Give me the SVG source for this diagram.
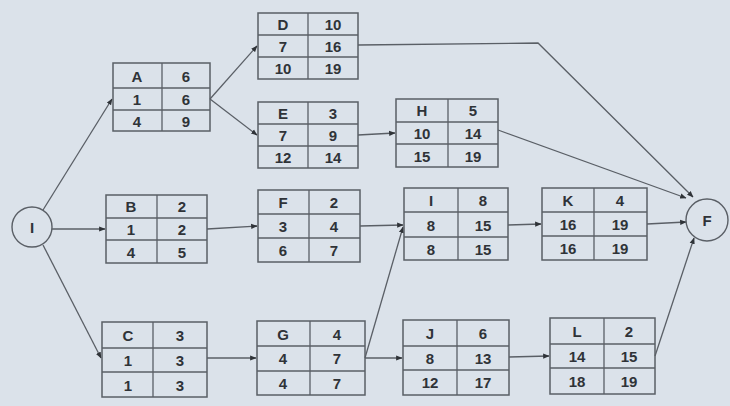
<svg xmlns="http://www.w3.org/2000/svg" width="730" height="406" viewBox="0 0 730 406">
<style>
.box{fill:none;stroke:#5a5f66;stroke-width:1.5}
.grid{stroke:#5a5f66;stroke-width:1.3}
.t{font-family:"Liberation Sans",Arial,sans-serif;font-weight:bold;font-size:15px;fill:#2f3338;text-anchor:middle;dominant-baseline:central}
.c{fill:none;stroke:#5a5f66;stroke-width:1.4}
.edge{fill:none;stroke:#5a5f66;stroke-width:1.3;marker-end:url(#ah)}
</style>
<defs>
<marker id="ah" viewBox="0 0 10 10" refX="9" refY="5" markerWidth="5" markerHeight="5" orient="auto" markerUnits="strokeWidth">
<path d="M0,1 L10,5 L0,9 z" fill="#2f3338"/>
</marker>
</defs>
<rect width="730" height="406" fill="#dbe2ea"/>

<g id="connectors">
<line class="edge" x1="43" y1="210" x2="112" y2="99"/>
<line class="edge" x1="52" y1="229" x2="105" y2="229"/>
<line class="edge" x1="43" y1="245" x2="101" y2="358"/>
<line class="edge" x1="210" y1="99" x2="257" y2="46"/>
<line class="edge" x1="210" y1="99" x2="257" y2="135"/>
<polyline class="edge" points="358,45 538,43 693,197"/>
<line class="edge" x1="358" y1="135" x2="395" y2="133"/>
<line class="edge" x1="498" y1="130" x2="686" y2="198"/>
<line class="edge" x1="207" y1="229" x2="257" y2="226"/>
<line class="edge" x1="360" y1="226" x2="403" y2="225"/>
<line class="edge" x1="365" y1="358" x2="403" y2="227"/>
<line class="edge" x1="508" y1="225" x2="541" y2="224"/>
<line class="edge" x1="647" y1="224" x2="686" y2="222"/>
<line class="edge" x1="207" y1="358" x2="256" y2="358"/>
<line class="edge" x1="365" y1="358" x2="402" y2="358"/>
<line class="edge" x1="509" y1="357" x2="549" y2="356"/>
<line class="edge" x1="655" y1="356" x2="694" y2="238"/>
</g>

<g id="start">
<circle class="c" cx="32" cy="227" r="20"/>
<text class="t" x="32" y="227">I</text>
</g>
<g id="finish">
<circle class="c" cx="707" cy="220" r="21"/>
<text class="t" x="707" y="220">F</text>
</g>

<g id="nodeA">
<rect class="box" x="113" y="63" width="97" height="68"/>
<line class="grid" x1="162" y1="63" x2="162" y2="131"/>
<line class="grid" x1="113" y1="88" x2="210" y2="88"/>
<line class="grid" x1="113" y1="110" x2="210" y2="110"/>
<text class="t" x="137" y="76">A</text><text class="t" x="186" y="76">6</text>
<text class="t" x="137" y="99">1</text><text class="t" x="186" y="99">6</text>
<text class="t" x="137" y="121">4</text><text class="t" x="186" y="121">9</text>
</g>

<g id="nodeD">
<rect class="box" x="258" y="13" width="100" height="66"/>
<line class="grid" x1="308" y1="13" x2="308" y2="79"/>
<line class="grid" x1="258" y1="35" x2="358" y2="35"/>
<line class="grid" x1="258" y1="57" x2="358" y2="57"/>
<text class="t" x="283" y="24">D</text><text class="t" x="333" y="24">10</text>
<text class="t" x="283" y="46">7</text><text class="t" x="333" y="46">16</text>
<text class="t" x="283" y="68">10</text><text class="t" x="333" y="68">19</text>
</g>

<g id="nodeE">
<rect class="box" x="258" y="102" width="100" height="66"/>
<line class="grid" x1="308" y1="102" x2="308" y2="168"/>
<line class="grid" x1="258" y1="124" x2="358" y2="124"/>
<line class="grid" x1="258" y1="146" x2="358" y2="146"/>
<text class="t" x="283" y="113">E</text><text class="t" x="333" y="113">3</text>
<text class="t" x="283" y="135">7</text><text class="t" x="333" y="135">9</text>
<text class="t" x="283" y="157">12</text><text class="t" x="333" y="157">14</text>
</g>

<g id="nodeH">
<rect class="box" x="396" y="99" width="102" height="68"/>
<line class="grid" x1="448" y1="99" x2="448" y2="167"/>
<line class="grid" x1="396" y1="122" x2="498" y2="122"/>
<line class="grid" x1="396" y1="144" x2="498" y2="144"/>
<text class="t" x="422" y="110">H</text><text class="t" x="473" y="110">5</text>
<text class="t" x="422" y="133">10</text><text class="t" x="473" y="133">14</text>
<text class="t" x="422" y="156">15</text><text class="t" x="473" y="156">19</text>
</g>

<g id="nodeB">
<rect class="box" x="106" y="195" width="101" height="68"/>
<line class="grid" x1="157" y1="195" x2="157" y2="263"/>
<line class="grid" x1="106" y1="218" x2="207" y2="218"/>
<line class="grid" x1="106" y1="240" x2="207" y2="240"/>
<text class="t" x="131" y="206">B</text><text class="t" x="182" y="206">2</text>
<text class="t" x="131" y="229">1</text><text class="t" x="182" y="229">2</text>
<text class="t" x="131" y="252">4</text><text class="t" x="182" y="252">5</text>
</g>

<g id="nodeF">
<rect class="box" x="258" y="190" width="102" height="72"/>
<line class="grid" x1="309" y1="190" x2="309" y2="262"/>
<line class="grid" x1="258" y1="214" x2="360" y2="214"/>
<line class="grid" x1="258" y1="238" x2="360" y2="238"/>
<text class="t" x="283" y="202">F</text><text class="t" x="334" y="202">2</text>
<text class="t" x="283" y="226">3</text><text class="t" x="334" y="226">4</text>
<text class="t" x="283" y="250">6</text><text class="t" x="334" y="250">7</text>
</g>

<g id="nodeI">
<rect class="box" x="404" y="188" width="104" height="72"/>
<line class="grid" x1="458" y1="188" x2="458" y2="260"/>
<line class="grid" x1="404" y1="212" x2="508" y2="212"/>
<line class="grid" x1="404" y1="237" x2="508" y2="237"/>
<text class="t" x="431" y="200">I</text><text class="t" x="483" y="200">8</text>
<text class="t" x="431" y="225">8</text><text class="t" x="483" y="225">15</text>
<text class="t" x="431" y="249">8</text><text class="t" x="483" y="249">15</text>
</g>

<g id="nodeK">
<rect class="box" x="542" y="188" width="105" height="72"/>
<line class="grid" x1="594" y1="188" x2="594" y2="260"/>
<line class="grid" x1="542" y1="212" x2="647" y2="212"/>
<line class="grid" x1="542" y1="236" x2="647" y2="236"/>
<text class="t" x="568" y="200">K</text><text class="t" x="620" y="200">4</text>
<text class="t" x="568" y="224">16</text><text class="t" x="620" y="224">19</text>
<text class="t" x="568" y="248">16</text><text class="t" x="620" y="248">19</text>
</g>

<g id="nodeC">
<rect class="box" x="102" y="322" width="105" height="75"/>
<line class="grid" x1="153" y1="322" x2="153" y2="397"/>
<line class="grid" x1="102" y1="348" x2="207" y2="348"/>
<line class="grid" x1="102" y1="372" x2="207" y2="372"/>
<text class="t" x="128" y="335">C</text><text class="t" x="180" y="335">3</text>
<text class="t" x="128" y="360">1</text><text class="t" x="180" y="360">3</text>
<text class="t" x="128" y="385">1</text><text class="t" x="180" y="385">3</text>
</g>

<g id="nodeG">
<rect class="box" x="257" y="321" width="108" height="74"/>
<line class="grid" x1="310" y1="321" x2="310" y2="395"/>
<line class="grid" x1="257" y1="346" x2="365" y2="346"/>
<line class="grid" x1="257" y1="371" x2="365" y2="371"/>
<text class="t" x="283" y="334">G</text><text class="t" x="337" y="334">4</text>
<text class="t" x="283" y="358">4</text><text class="t" x="337" y="358">7</text>
<text class="t" x="283" y="383">4</text><text class="t" x="337" y="383">7</text>
</g>

<g id="nodeJ">
<rect class="box" x="403" y="320" width="106" height="75"/>
<line class="grid" x1="457" y1="320" x2="457" y2="395"/>
<line class="grid" x1="403" y1="346" x2="509" y2="346"/>
<line class="grid" x1="403" y1="370" x2="509" y2="370"/>
<text class="t" x="430" y="333">J</text><text class="t" x="483" y="333">6</text>
<text class="t" x="430" y="358">8</text><text class="t" x="483" y="358">13</text>
<text class="t" x="430" y="382">12</text><text class="t" x="483" y="382">17</text>
</g>

<g id="nodeL">
<rect class="box" x="550" y="318" width="105" height="76"/>
<line class="grid" x1="604" y1="318" x2="604" y2="394"/>
<line class="grid" x1="550" y1="344" x2="655" y2="344"/>
<line class="grid" x1="550" y1="368" x2="655" y2="368"/>
<text class="t" x="577" y="331">L</text><text class="t" x="629" y="331">2</text>
<text class="t" x="577" y="356">14</text><text class="t" x="629" y="356">15</text>
<text class="t" x="577" y="381">18</text><text class="t" x="629" y="381">19</text>
</g>
</svg>
